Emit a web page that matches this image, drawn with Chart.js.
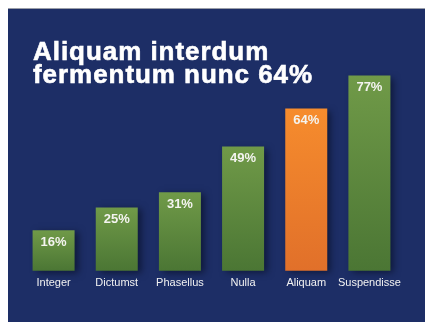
<!DOCTYPE html>
<html>
<head>
<meta charset="utf-8">
<script src="https://cdn.jsdelivr.net/npm/chart.js@4/dist/chart.umd.min.js"></script>
<style>
  html, body { margin: 0; padding: 0; background: #fff; width: 425px; height: 322px; overflow: hidden; }
  #panel {
    position: absolute; left: 8px; top: 8px; width: 417px; height: 314px;
    background: #1d2e66; border-top: 1px solid #9a9ea8; box-sizing: border-box;
  }
  #panel canvas { position: absolute; left: 0; top: -1px; }
  #heading {
    position: absolute; left: 25px; top: 30.5px; margin: 0;
    font: bold 26px "Liberation Sans", Arial, sans-serif; line-height: 23.5px;
    letter-spacing: 0.95px; color: #fff; z-index: 2;
    -webkit-text-stroke: 0.6px #fff;
  }
</style>
</head>
<body>
<div id="panel">
  <h1 id="heading">Aliquam interdum<br>fermentum nunc 64%</h1>
  <canvas id="chart" width="417" height="314"></canvas>
</div>
<script>
// categories and their shares (percent)
const CATEGORIES = ["Integer", "Dictumst", "Phasellus", "Nulla", "Aliquam", "Suspendisse"];
const SHARES = [16, 25, 31, 49, 64, 77];
const HIGHLIGHT = "Aliquam";

const GREEN = ["#709a48", "#4b7634"];
const ORANGE = ["#f68c2d", "#e1702a"];

// vertical gradient from the bar's top down to the baseline
function barFill(ctx) {
  const chart = ctx.chart;
  const area = chart.chartArea;
  if (!area) return GREEN[1];
  const pair = CATEGORIES[ctx.dataIndex] === HIGHLIGHT ? ORANGE : GREEN;
  const top = chart.scales.y.getPixelForValue(SHARES[ctx.dataIndex]);
  const g = chart.ctx.createLinearGradient(0, top, 0, area.bottom);
  g.addColorStop(0, pair[0]);
  g.addColorStop(1, pair[1]);
  return g;
}

// soft drop shadow behind the bars, then value labels on top
const barDecor = {
  id: "barDecor",
  beforeDatasetsDraw(chart) {
    const c = chart.ctx;
    c.save();
    c.shadowColor = "rgba(5,10,30,0.6)";
    c.shadowBlur = 7;
    c.shadowOffsetX = 4;
    c.shadowOffsetY = 2;
  },
  afterDatasetsDraw(chart) {
    const c = chart.ctx;
    c.restore();
    const meta = chart.getDatasetMeta(0);
    c.save();
    c.fillStyle = "#f4f4f0";
    c.font = 'bold 13px "Liberation Sans", Arial, sans-serif';
    c.textAlign = "center";
    c.textBaseline = "middle";
    meta.data.forEach((bar, i) => {
      c.fillText(SHARES[i] + "%", bar.x, bar.y + 12);
    });
    c.restore();
  }
};

new Chart(document.getElementById("chart"), {
  type: "bar",
  data: {
    labels: CATEGORIES,
    datasets: [{
      data: SHARES,
      backgroundColor: barFill,
      borderWidth: 0,
      categoryPercentage: 0.665,
      barPercentage: 1,
      clip: false
    }]
  },
  options: {
    responsive: false,
    animation: false,
    events: [],
    layout: { padding: { left: 14, right: 24, top: 60, bottom: 26 } },
    plugins: { legend: { display: false }, tooltip: { enabled: false } },
    scales: {
      x: {
        grid: { display: false, drawTicks: false },
        border: { display: false },
        ticks: {
          color: "#f2f2f2",
          padding: 6,
          maxRotation: 0,
          minRotation: 0,
          autoSkip: false,
          font: { family: '"Liberation Sans", Arial, sans-serif', size: 11 }
        }
      },
      y: { display: false, min: 0, max: 80 }
    }
  },
  plugins: [barDecor]
});
</script>
</body>
</html>
